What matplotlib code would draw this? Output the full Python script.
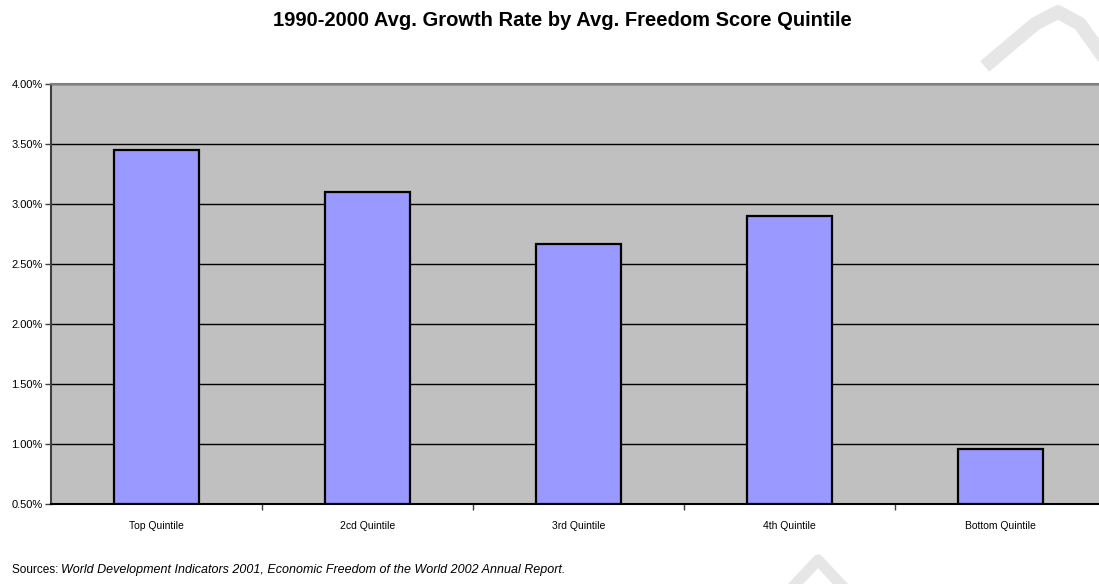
import matplotlib.pyplot as plt
import numpy as np
from matplotlib.lines import Line2D
from matplotlib.ticker import FixedLocator, FuncFormatter

categories = ["Top Quintile", "2cd Quintile", "3rd Quintile", "4th Quintile", "Bottom Quintile"]
growth_pct = [3.45, 3.10, 2.67, 2.90, 0.96]
y_ticks = [0.5, 1.0, 1.5, 2.0, 2.5, 3.0, 3.5, 4.0]

title = "1990-2000 Avg. Growth Rate by Avg. Freedom Score Quintile"
source_label = "Sources: "
source_text = "World Development Indicators 2001, Economic Freedom of the World 2002 Annual Report."

plt.rcParams["font.family"] = ["Liberation Sans", "DejaVu Sans"]

fig = plt.figure(figsize=(10.99, 5.84), dpi=100)
W, H = 1099, 584
left, right, top, bottom = 51, 1106, 84, 504
ax = fig.add_axes([left / W, 1 - bottom / H, (right - left) / W, (bottom - top) / H])

ax.set_facecolor("#C0C0C0")
x = np.arange(len(categories))
ax.bar(x, [v - y_ticks[0] for v in growth_pct], bottom=y_ticks[0], width=0.4,
       color="#9999FF", edgecolor="black", linewidth=1.6, zorder=3)

ax.set_xlim(-0.5, len(categories) - 0.5)
ax.set_ylim(y_ticks[0], y_ticks[-1])
ax.yaxis.set_major_locator(FixedLocator(y_ticks))
ax.yaxis.set_major_formatter(FuncFormatter(lambda v, _: f"{v:.2f}%"))
ax.grid(axis="y", color="black", linewidth=1.0, zorder=1)

# category ticks sit between the bars, labels sit under them
ax.set_xticks(x[:-1] + 0.5)
ax.set_xticklabels([])
ax.set_xticks(x, minor=True)
ax.set_xticklabels(categories, minor=True, fontsize=7.5)
ax.tick_params(axis="x", which="major", length=4, width=1, color="#404040")
ax.tick_params(axis="x", which="minor", length=0, pad=12.5)
ax.tick_params(axis="y", length=4, width=1, color="#404040", labelsize=8, pad=2)

ax.spines["right"].set_visible(False)
ax.spines["top"].set_color("#808080")
ax.spines["top"].set_linewidth(1.5)
ax.spines["left"].set_color("#404040")
ax.spines["left"].set_linewidth(1.5)
ax.spines["bottom"].set_color("black")
ax.spines["bottom"].set_linewidth(1.5)

fig.text(562 / W, 1 - 20 / H, title, ha="center", va="center",
         fontsize=14.5, fontweight="bold")

fig.text(12 / W, 1 - 570 / H, source_label, ha="left", va="center", fontsize=8.5)
fig.text(61 / W, 1 - 570 / H, source_text, ha="left", va="center", fontsize=9, style="italic")

# faint watermark fragments visible around the chart
wm = "#E6E6E6"
fig.add_artist(Line2D([990 / W, 1035 / W, 1058 / W, 1080 / W, 1100 / W],
                      [1 - 62 / H, 1 - 24 / H, 1 - 12 / H, 1 - 24 / H, 1 - 52 / H],
                      color=wm, linewidth=10, solid_joinstyle="round", zorder=0))
fig.add_artist(Line2D([790 / W, 818 / W, 846 / W], [1 - 590 / H, 1 - 560 / H, 1 - 590 / H],
                      color=wm, linewidth=8, zorder=0))

fig.savefig("out.png", dpi=100)
